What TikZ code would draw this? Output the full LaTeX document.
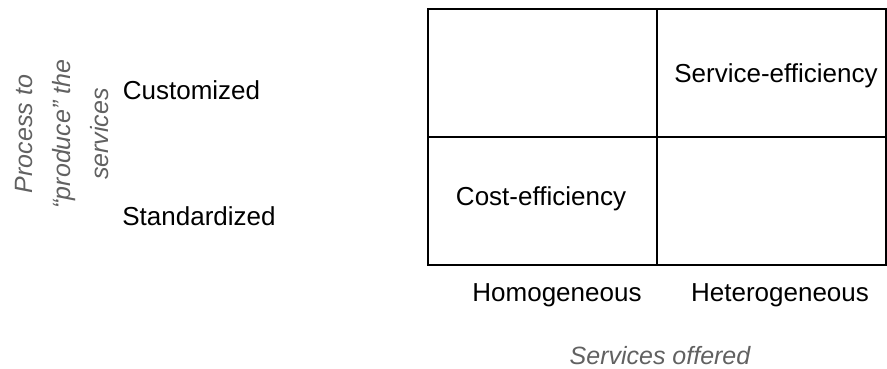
\documentclass[tikz,border=0pt]{standalone}
\usepackage{fontspec}
\setmainfont{Liberation Sans}
\begin{document}
\begin{tikzpicture}[x=1pt,y=-1pt,
  lbl/.style={font=\fontsize{26}{30}\selectfont, text=black, inner sep=0pt, anchor=base},
  axis/.style={font=\fontsize{25}{38}\selectfont\itshape, text=black!62, inner sep=0pt, align=center},
  grid/.style={line width=2pt, draw=black}]
  \useasboundingbox (0,0) rectangle (887,368);
  % 2x2 matrix
  \coordinate (tl) at (428,9);
  \coordinate (br) at (886,265);
  \draw[grid] (tl) rectangle (br);
  \coordinate (mt) at (657,9);
  \coordinate (mb) at (657,265);
  \coordinate (ml) at (428,137);
  \coordinate (mr) at (886,137);
  \draw[grid] (mt) -- (mb);
  \draw[grid] (ml) -- (mr);
  % cell labels
  \node[lbl] (svc) at (776,82) {Service-efficiency};
  \node[lbl] (cost) at (541,205) {Cost-efficiency};
  % row labels
  \node[lbl] (cust) at (191.5,99) {Customized};
  \node[lbl] (std) at (199,225) {Standardized};
  % column labels
  \node[lbl] (homo) at (557,301) {Homogeneous};
  \node[lbl] (hetero) at (780,301) {Heterogeneous};
  % axis titles
  \node[axis, anchor=base] (xaxis) at (660,364) {Services offered};
  \node[axis, rotate=90] (yaxis) at (62,134) {Process to\\``produce'' the\\services};
\end{tikzpicture}
\end{document}
